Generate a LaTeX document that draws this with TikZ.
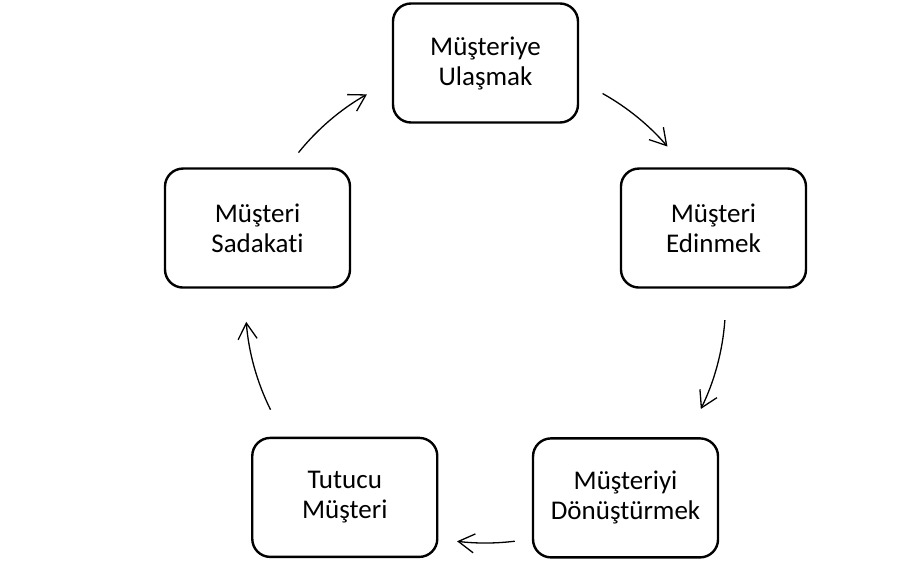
\documentclass[tikz,border=0pt]{standalone}
\usepackage{fontspec}
\setmainfont{Carlito}[Ligatures=NoCommon]
\usetikzlibrary{arrows.meta}

\begin{document}
\begin{tikzpicture}[%
		x=1pt,
		y=1pt,
		stage/.style={%
			draw,
			line width=2.4pt,
			rounded corners=18pt,
			minimum width=185pt,
			minimum height=119pt,
			align=center,
			font=\fontsize{27}{30}\selectfont
		},
		cyc/.style={%
			-{Straight Barb[length=16pt,width=19pt]},
			line width=1.3pt
		}
		]
		\useasboundingbox (-485.5,-263) rectangle (428.5,303);
		\coordinate (c) at (0,0);
		
		\node[stage] (1) at (90:240)                                  {Müşteriye\\Ulaşmak};
		\node[stage] (2) at (18.2:240)                                {Müşteri\\Edinmek};
		\node[stage] (3) at (-54.3:240)                               {Müşteriyi\\Dönüştürmek};
		\node[stage] (4) at (234.1:240)                               {Tutucu\\Müşteri};
		\node[stage] (5) at (161.8:240)                               {Müşteri\\Sadakati};
		
		\coordinate (12) at (60.8:240);
		\coordinate (23) at (-4.1:240);
		\coordinate (34) at (-83:240);
		\coordinate (45) at (-153.6:240);
		\coordinate (51) at (141.2:240);
		
		\draw[cyc] (12) arc[start angle=60.8, end angle=40.7, radius=240];
		\draw[cyc] (23) arc[start angle=-4.1, end angle=-26.2, radius=240];
		\draw[cyc] (34) arc[start angle=-83, end angle=-96.8, radius=240];
		\draw[cyc] (45) arc[start angle=-153.6, end angle=-175.5, radius=240];
		\draw[cyc] (51) arc[start angle=141.2, end angle=119.6, radius=240];
\end{tikzpicture}
\end{document}
